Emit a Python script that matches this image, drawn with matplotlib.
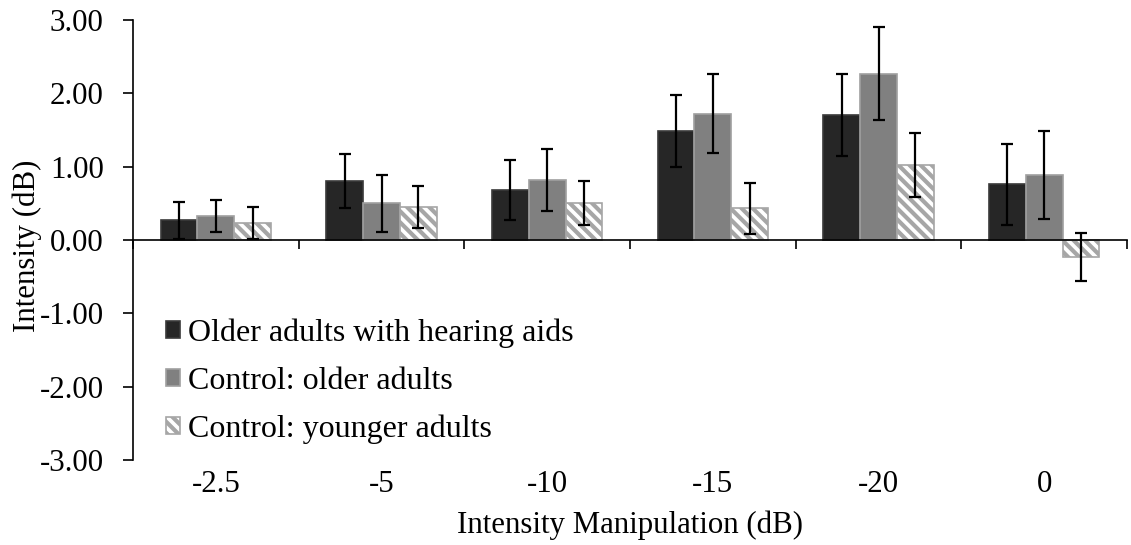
import matplotlib.pyplot as plt
from matplotlib.patches import Patch
import numpy as np

plt.rcParams.update({"font.family": "serif", "font.serif": ["Liberation Serif"]})
plt.rcParams["hatch.linewidth"] = 3.0

categories = ["-2.5", "-5", "-10", "-15", "-20", "0"]
series = [
    "Older adults with hearing aids",
    "Control: older adults",
    "Control: younger adults",
]
hearing_aids = [0.27, 0.80, 0.68, 1.49, 1.70, 0.76]
older_ctrl = [0.33, 0.50, 0.82, 1.72, 2.27, 0.88]
younger_ctrl = [0.23, 0.45, 0.50, 0.43, 1.02, -0.23]
hearing_aids_err = [0.25, 0.37, 0.41, 0.49, 0.56, 0.55]
older_ctrl_err = [0.22, 0.39, 0.42, 0.54, 0.64, 0.60]
younger_ctrl_err = [0.22, 0.29, 0.30, 0.35, 0.44, 0.33]

FS = 22.2   # axis text
LFS = 23    # legend text

fig = plt.figure(figsize=(11.31, 5.45), dpi=100)
ax = fig.add_axes([133 / 1131, 1 - 460 / 545, (1127 - 133) / 1131, 440 / 545])

x = np.arange(len(categories))
w = 1 / 4.5
styles = [
    dict(color="#262626", edgecolor="#3a3a3a"),
    dict(color="#808080", edgecolor="#a0a0a0"),
    dict(color="white", edgecolor="#a6a6a6", hatch="\\\\\\"),
]
values = [hearing_aids, older_ctrl, younger_ctrl]
errors = [hearing_aids_err, older_ctrl_err, younger_ctrl_err]

handles = []
for i, (vals, errs, st) in enumerate(zip(values, errors, styles)):
    pos = x + (i - 1) * w
    ax.bar(pos, vals, w, linewidth=1.2, zorder=2, **st)
    ax.errorbar(
        pos, vals, yerr=errs, fmt="none", ecolor="black",
        elinewidth=1.6, capsize=4.5, capthick=1.6, zorder=3,
    )
    handles.append(Patch(facecolor=st["color"], edgecolor=st["edgecolor"],
                         hatch=st.get("hatch"), linewidth=1.2, label=series[i]))

ax.set_xlim(-0.5, len(categories) - 0.5)
ax.set_ylim(-3, 3)
ax.set_yticks(np.arange(-3, 3.5, 1))
ax.set_yticklabels([f"{v:.2f}" for v in np.arange(-3, 3.5, 1)])
ax.tick_params(axis="y", labelsize=FS, length=7, width=1.2, pad=14)

ax.spines["top"].set_visible(False)
ax.spines["right"].set_visible(False)
ax.spines["bottom"].set_position(("data", 0))
ax.spines["left"].set_linewidth(1.2)
ax.spines["bottom"].set_linewidth(1.2)
ax.spines["bottom"].set_zorder(4)
ax.set_xticks(np.arange(len(categories) + 1) - 0.5)
ax.set_xticklabels([])
ax.tick_params(axis="x", length=6.5, width=1.2, direction="out")

for xi, lab in zip(x, categories):
    ax.text(xi, -0.055, lab, transform=ax.get_xaxis_transform(),
            ha="center", va="center", fontsize=FS)

fig.text(27 / 1131, 1 - 246 / 545, "Intensity (dB)", rotation=90,
         ha="center", va="center", fontsize=FS)
ax.text(0.5, -0.148, "Intensity Manipulation (dB)", transform=ax.transAxes,
        ha="center", va="center", fontsize=FS)

fig.legend(handles=handles, loc="upper left", bbox_to_anchor=(166 / 1131, 1 - 318 / 545),
           frameon=False, fontsize=LFS, handlelength=0.44, handleheight=0.44,
           handletextpad=0.25, labelspacing=0.6, borderpad=0, borderaxespad=0)

fig.savefig("out.png", dpi=100)
